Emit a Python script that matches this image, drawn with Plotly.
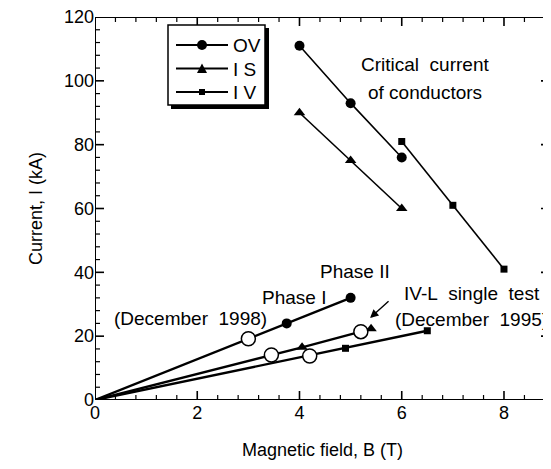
import plotly.graph_objects as go

# Critical current of conductors
B_ov_crit = [4, 5, 6]
I_ov_crit = [111, 93, 76]
B_is_crit = [4, 5, 6]
I_is_crit = [90, 75, 60]
B_iv_crit = [6, 7, 8]
I_iv_crit = [81, 61, 41]

# Test load lines (from origin)
B_ov_test = [0, 3.75, 5.0]
I_ov_test = [0, 24, 32]
B_is_test = [0, 4.05, 5.4]
I_is_test = [0, 16.5, 22.3]
B_iv_test = [0, 4.9, 6.5]
I_iv_test = [0, 16.2, 21.7]

# Open circles (tests)
B_open = [3.0, 3.45, 4.2, 5.2]
I_open = [19.2, 14.1, 13.8, 21.4]

legend_names = ["OV", "I S", "I V"]
x_ticks = [0, 2, 4, 6, 8]
y_ticks = [0, 20, 40, 60, 80, 100, 120]
X_RANGE = [0, 8.9]
Y_RANGE = [0, 120]
x_minor = [round(i * 0.4, 2) for i in range(23) if i % 5 != 0]
y_minor = [i * 4 for i in range(31) if i % 5 != 0]

FONT = "Liberation Sans, Arial, Helvetica, sans-serif"
PLOT_W, PLOT_H = 455, 383
fig = go.Figure()

def px(p):  # page x -> paper x (page has 8px body margin)
    return (p - 95) / PLOT_W

def py(p):  # page y -> paper y
    return (400 - p) / PLOT_H

# --- axis frame and inside ticks, drawn as line traces ---
ux = (X_RANGE[1] - X_RANGE[0]) / PLOT_W  # data units per pixel (x)
uy = (Y_RANGE[1] - Y_RANGE[0]) / PLOT_H  # data units per pixel (y)

def tick_path(vals, ln, horizontal_axis):
    xs, ys = [], []
    for v in vals:
        if horizontal_axis:
            for base, sgn in [(Y_RANGE[0], 1), (Y_RANGE[1], -1)]:
                xs += [v, v, None]
                ys += [base, base + sgn * ln * uy, None]
        else:
            for base, sgn in [(X_RANGE[0], 1), (X_RANGE[1], -1)]:
                xs += [base, base + sgn * ln * ux, None]
                ys += [v, v, None]
    return xs, ys

for vals, ln, w, horiz in [(x_ticks, 9, 1.6, True), (x_minor, 5, 1.2, True),
                           (y_ticks, 9, 1.6, False), (y_minor, 5, 1.2, False)]:
    tx, ty = tick_path(vals, ln, horiz)
    fig.add_trace(go.Scatter(x=tx, y=ty, mode="lines", showlegend=False, hoverinfo="skip",
                             cliponaxis=False, line=dict(color="black", width=w)))

fig.add_trace(go.Scatter(x=[X_RANGE[0], X_RANGE[1], X_RANGE[1], X_RANGE[0], X_RANGE[0]],
                         y=[Y_RANGE[0], Y_RANGE[0], Y_RANGE[1], Y_RANGE[1], Y_RANGE[0]],
                         mode="lines", showlegend=False, hoverinfo="skip", cliponaxis=False,
                         line=dict(color="black", width=2)))

# --- data ---
styles = [("circle", 10), ("triangle-up", 10), ("square", 7)]
crit = [(B_ov_crit, I_ov_crit), (B_is_crit, I_is_crit), (B_iv_crit, I_iv_crit)]
test = [(B_ov_test, I_ov_test), (B_is_test, I_is_test), (B_iv_test, I_iv_test)]

for name, (sym, sz), (bx, iy) in zip(legend_names, styles, crit):
    fig.add_trace(go.Scatter(x=bx, y=iy, mode="lines+markers", name=name, showlegend=False,
                             line=dict(color="black", width=1.6),
                             marker=dict(symbol=sym, size=sz, color="black")))

for (sym, sz), (bx, iy) in zip(styles, test):
    fig.add_trace(go.Scatter(x=bx, y=iy, mode="lines", showlegend=False,
                             line=dict(color="black", width=2.4)))
    fig.add_trace(go.Scatter(x=bx[1:], y=iy[1:], mode="markers", showlegend=False,
                             marker=dict(symbol=sym, size=sz, color="black")))

fig.add_trace(go.Scatter(x=B_open, y=I_open, mode="markers", showlegend=False,
                         marker=dict(symbol="circle", size=14, color="white",
                                     line=dict(color="black", width=1.5))))

ann_font = dict(family=FONT, size=19, color="black")
annotations = [
    dict(x=6.46, y=105, text="Critical\u00a0\u00a0current"),
    dict(x=6.46, y=96.5, text="of\u00a0conductors"),
    dict(x=5.09, y=40.4, text="Phase\u00a0II"),
    dict(x=3.89, y=32, text="Phase\u00a0I"),
    dict(x=1.86, y=25.4, text="(December\u00a0\u00a01998)"),
    dict(x=7.38, y=33.5, text="IV-L\u00a0\u00a0single\u00a0\u00a0test"),
    dict(x=5.83, y=25.1, text="(December\u00a0\u00a01995)", xanchor="left"),
]
for a in annotations:
    fig.add_annotation(xref="x", yref="y", showarrow=False, font=ann_font,
                       xanchor=a.get("xanchor", "center"), yanchor="middle",
                       x=a["x"], y=a["y"], text=a["text"])
fig.add_annotation(xref="x", yref="y", x=5.38, y=25.7, ax=20, ay=-18, text="",
                   showarrow=True, arrowhead=2, arrowsize=1.2, arrowwidth=1.4,
                   arrowcolor="black")

# legend box with shadow (drawn by hand for exact layout)
shapes = [
    dict(type="rect", xref="paper", yref="paper",
         x0=px(171), x1=px(269), y0=py(109), y1=py(28),
         fillcolor="black", line=dict(width=0), layer="above"),
    dict(type="rect", xref="paper", yref="paper",
         x0=px(168), x1=px(265), y0=py(105), y1=py(25),
         fillcolor="white", line=dict(color="black", width=1.5), layer="above"),
]
rows = [45, 68.5, 92]
for name, yy in zip(legend_names, rows):
    shapes.append(dict(type="line", xref="paper", yref="paper",
                       x0=px(176), x1=px(228), y0=py(yy), y1=py(yy),
                       line=dict(color="black", width=1.8), layer="above"))
    fig.add_annotation(xref="paper", yref="paper", x=px(231), y=py(yy + 0.5),
                       xanchor="left", yanchor="middle", showarrow=False,
                       text=name, font=dict(family=FONT, size=19, color="black"))
shapes.append(dict(type="circle", xref="paper", yref="paper",
                   x0=px(197), x1=px(207), y0=py(50), y1=py(40),
                   fillcolor="black", line=dict(width=0), layer="above"))
shapes.append(dict(type="path", xref="paper", yref="paper",
                   path=f"M {px(197)} {py(73)} L {px(207)} {py(73)} L {px(202)} {py(63.5)} Z",
                   fillcolor="black", line=dict(width=0), layer="above"))
shapes.append(dict(type="rect", xref="paper", yref="paper",
                   x0=px(199), x1=px(205), y0=py(95), y1=py(89),
                   fillcolor="black", line=dict(width=0), layer="above"))

axis_common = dict(ticks="", showline=False, showgrid=False, zeroline=False,
                   automargin=False, ticklabeloverflow="allow",
                   tickfont=dict(size=18, family=FONT, color="black"))

fig.update_layout(
    template="none",
    width=551, height=469,
    margin=dict(l=87, r=9, t=9, b=77),
    paper_bgcolor="white", plot_bgcolor="white",
    font=dict(family=FONT, size=18, color="black"),
    showlegend=False,
    shapes=shapes,
)
fig.update_xaxes(range=X_RANGE, tickmode="array", tickvals=x_ticks,
                 title=dict(text="Magnetic field, B (T)", font=dict(size=18), standoff=21),
                 **axis_common)
fig.update_yaxes(range=Y_RANGE, tickmode="array", tickvals=y_ticks,
                 title=dict(text="Current, I (kA)", font=dict(size=18), standoff=16),
                 **axis_common)

fig.write_html("out.html")
